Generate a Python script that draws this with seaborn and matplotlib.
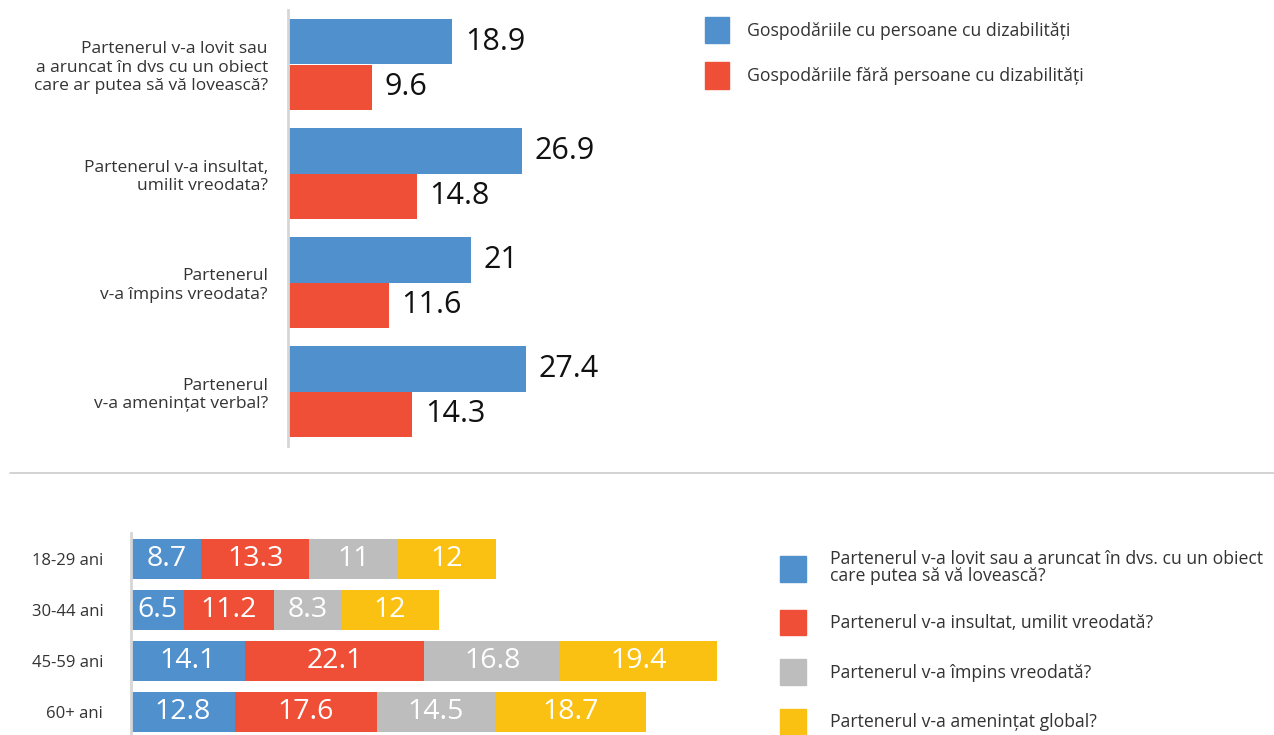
import matplotlib
matplotlib.use("Agg")
import matplotlib.pyplot as plt
from matplotlib.patches import Patch
from matplotlib.lines import Line2D
import seaborn as sns
import pandas as pd
import numpy as np

# --- data ---
questions = [
    "Partenerul v-a lovit sau\na aruncat în dvs cu un obiect\ncare ar putea să vă lovească?",
    "Partenerul v-a insultat,\numilit vreodata?",
    "Partenerul\nv-a împins vreodata?",
    "Partenerul\nv-a amenințat verbal?",
]
groups = ["Gospodăriile cu persoane cu dizabilități",
          "Gospodăriile fără persoane cu dizabilități"]
with_dis = [18.9, 26.9, 21, 27.4]
without_dis = [9.6, 14.8, 11.6, 14.3]

ages = ["18-29 ani", "30-44 ani", "45-59 ani", "60+ ani"]
acts = ["Partenerul v-a lovit sau a aruncat în dvs. cu un obiect\ncare putea să vă lovească?",
        "Partenerul v-a insultat, umilit vreodată?",
        "Partenerul v-a împins vreodată?",
        "Partenerul v-a amenințat global?"]
hit = [8.7, 6.5, 14.1, 12.8]
insult = [13.3, 11.2, 22.1, 17.6]
push = [11, 8.3, 16.8, 14.5]
threat = [12, 12, 19.4, 18.7]

blue, red, gray, yellow = "#5090CD", "#EF4E37", "#BDBDBD", "#FBC112"
txt = "#333333"

sns.set_theme(style="white")
plt.rcParams["font.family"] = ["Open Sans", "DejaVu Sans"]

W, H = 1274, 735
fig = plt.figure(figsize=(W / 100, H / 100), dpi=100)

def px_axes(l, t, r, b):
    return fig.add_axes([l / W, 1 - b / H, (r - l) / W, (b - t) / H])

# --- top chart ---
top = pd.DataFrame({
    "question": questions * 2,
    "group": [groups[0]] * 4 + [groups[1]] * 4,
    "value": with_dis + without_dis,
})
ax1 = px_axes(288, 10, 680, 446)
sns.barplot(data=top, y="question", x="value", hue="group", orient="h",
            palette=[blue, red], width=0.83, ax=ax1, legend=False,
            saturation=1, linewidth=0)
for cont in ax1.containers:
    ax1.bar_label(cont, labels=[f"{v:g}" for v in cont.datavalues],
                  padding=9, fontsize=22, color="#111111")
ax1.set_xlim(0, 392 / 8.7)
ax1.set_ylim(3.5, -0.5)
ax1.set_xlabel("")
ax1.set_ylabel("")
ax1.set_xticks([])
ax1.tick_params(axis="y", length=0, pad=14.5, labelsize=12.5, labelcolor=txt)
for s in ["top", "right", "bottom"]:
    ax1.spines[s].set_visible(False)
ax1.spines["left"].set_color("#d6d6d6")
ax1.spines["left"].set_linewidth(2)

fig.legend(handles=[Patch(color=blue), Patch(color=red)], labels=groups,
           loc="upper left", bbox_to_anchor=(705 / W, 1 - 17 / H),
           frameon=False, fontsize=12.7, handlelength=1.36, handleheight=1.92,
           handletextpad=1.0, labelspacing=1.08, borderpad=0, borderaxespad=0,
           labelcolor=txt)

# separator
fig.add_artist(Line2D([10 / W, 1], [1 - 473 / H] * 2, color="#cccccc", lw=1.2))

# --- bottom chart ---
ax2 = px_axes(131, 533.5, 131 + 75 * 8.1, 737.5)
series = [hit, insult, push, threat]
colors = [blue, red, gray, yellow]
left = np.zeros(len(ages))
for vals, col in zip(series, colors):
    sns.barplot(x=vals, y=ages, orient="h", color=col, width=0.77,
                left=left.copy(), ax=ax2, saturation=1, linewidth=0)
    ax2.bar_label(ax2.containers[-1], labels=[f"{v:g}" for v in vals],
                  label_type="center", fontsize=20.5, color="white")
    left += np.array(vals)
ax2.set_xlim(0, 75)
ax2.set_ylim(3.5, -0.5)
ax2.set_xlabel("")
ax2.set_ylabel("")
ax2.set_xticks([])
ax2.tick_params(axis="y", length=0, pad=20, labelsize=12, labelcolor=txt)
for s in ["top", "right", "bottom"]:
    ax2.spines[s].set_visible(False)
ax2.spines["left"].set_color("#d6d6d6")
ax2.spines["left"].set_linewidth(2)

leg2 = fig.legend(handles=[Patch(color=c) for c in colors], labels=acts,
                  loc="upper left", bbox_to_anchor=(780 / W, 1 - 550 / H),
                  frameon=False, fontsize=12.7, handlelength=1.48, handleheight=1.83,
                  handletextpad=1.36, labelspacing=1.38, borderpad=0,
                  borderaxespad=0, labelcolor=txt)
for t in leg2.get_texts():
    t.set_linespacing(0.95)

fig.savefig("out.png", dpi=100)
